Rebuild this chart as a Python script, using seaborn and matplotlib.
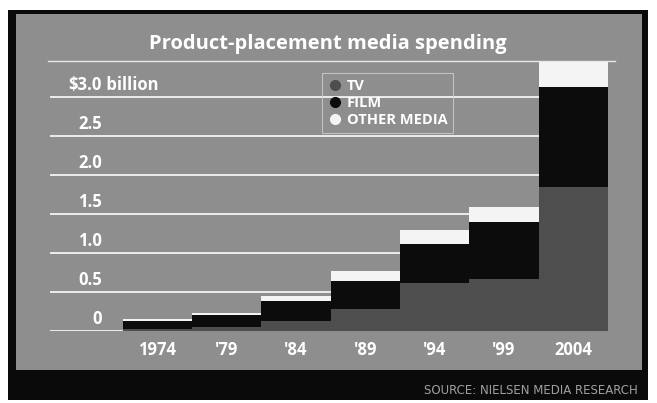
import matplotlib
matplotlib.use("Agg")
import matplotlib.pyplot as plt
from matplotlib.patches import Rectangle
from matplotlib.lines import Line2D
import seaborn as sns
import pandas as pd

years = ["1974", "'79", "'84", "'89", "'94", "'99", "2004"]
tv = [0.02, 0.05, 0.13, 0.28, 0.62, 0.67, 1.85]
film = [0.11, 0.15, 0.26, 0.36, 0.50, 0.73, 1.28]
other = [0.02, 0.03, 0.06, 0.13, 0.17, 0.19, 0.32]
grid_vals = [0, 0.5, 1.0, 1.5, 2.0, 2.5, 3.0]
grid_labels = ["0", "0.5", "1.0", "1.5", "2.0", "2.5", "$3.0"]

panel_gray = "#8e8e8e"
tv_gray = "#4e4e4e"
film_black = "#0c0c0c"
other_white = "#f4f4f4"

df = pd.DataFrame({"year": years, "tv": tv, "film": film, "other": other})
df["tv_film"] = df["tv"] + df["film"]
df["total"] = df["tv_film"] + df["other"]

W, H = 657, 403
fig = plt.figure(figsize=(W / 100, H / 100), dpi=100, facecolor="white")
plt.rcParams["font.family"] = ["Open Sans", "DejaVu Sans"]

# black frame + gray panel (behind the axes)
fig.patches.append(Rectangle((8 / W, 3 / H), 640 / W, 390 / H, facecolor="#0a0a0a",
                             transform=fig.transFigure, zorder=-2))
fig.patches.append(Rectangle((16 / W, 1 - 370 / H), 626 / W, 356 / H, facecolor=panel_gray,
                             transform=fig.transFigure, zorder=-1))

ax = fig.add_axes([48 / W, 1 - 331 / H, 567 / W, 270 / H])
ax.set_facecolor("none")

# stacked bars: draw cumulative heights, tallest first
sns.barplot(data=df, x="year", y="total", order=years, color=other_white, width=1.0,
            linewidth=0, saturation=1, ax=ax, zorder=3)
sns.barplot(data=df, x="year", y="tv_film", order=years, color=film_black, width=1.0,
            linewidth=0, saturation=1, ax=ax, zorder=3)
sns.barplot(data=df, x="year", y="tv", order=years, color=tv_gray, width=1.0,
            linewidth=0, saturation=1, ax=ax, zorder=3)

ax.set_xlim(-1.58, 6.6)
ax.set_ylim(0, 3.46)

ax.hlines(grid_vals, -1.55, 6.5, colors="white", linewidth=1.3, alpha=0.9, zorder=1)
for v, lab in zip(grid_vals, grid_labels):
    ax.text(-0.80, v + 0.04, lab, ha="right", va="bottom", color="white",
            fontsize=12, fontweight="bold", zorder=2)
ax.text(-0.80, 3.0 + 0.04, " billion", ha="left", va="bottom", color="white",
        fontsize=12, fontweight="bold", zorder=2)

for s in ["left", "right", "bottom"]:
    ax.spines[s].set_visible(False)
ax.spines["top"].set_color("#e8e8e8")
ax.spines["top"].set_linewidth(1.0)

ax.set_yticks([])
ax.set_xlabel("")
ax.set_ylabel("")
ax.tick_params(axis="x", length=0, pad=7, labelcolor="white", labelsize=12)
for t in ax.get_xticklabels():
    t.set_fontweight("bold")

# legend
handles = [
    Line2D([], [], marker="o", linestyle="none", markersize=7, markerfacecolor=tv_gray,
           markeredgecolor=tv_gray, label="TV"),
    Line2D([], [], marker="o", linestyle="none", markersize=7, markerfacecolor=film_black,
           markeredgecolor=film_black, label="FILM"),
    Line2D([], [], marker="o", linestyle="none", markersize=7, markerfacecolor=other_white,
           markeredgecolor=other_white, label="OTHER MEDIA"),
]
leg = ax.legend(handles=handles, loc="upper left", bbox_to_anchor=(322 / W, 1 - 73 / H),
                bbox_transform=fig.transFigure, borderaxespad=0, frameon=True,
                fancybox=False, facecolor="none", edgecolor="#d0d0d0",
                handletextpad=0.3, handlelength=1.0, labelspacing=0.2,
                borderpad=0.4, prop={"weight": "bold", "size": 10.5})
leg.get_frame().set_linewidth(0.8)
for t in leg.get_texts():
    t.set_color("white")

fig.text(328 / W, 1 - 44 / H, "Product-placement media spending", ha="center", va="center",
         color="white", fontsize=14.5, fontweight="bold")
fig.text(638 / W, 1 - 391 / H, "SOURCE: NIELSEN MEDIA RESEARCH", ha="right", va="center",
         color="#a0a0a0", fontsize=8.5, family="DejaVu Sans")

fig.savefig("out.png", dpi=100, facecolor="white")
